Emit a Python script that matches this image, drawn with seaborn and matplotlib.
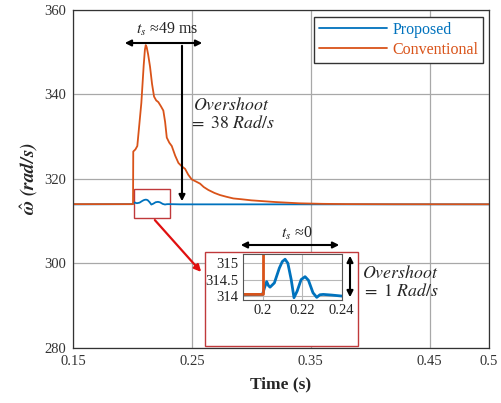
import numpy as np
import pandas as pd
import matplotlib
matplotlib.use("Agg")
import matplotlib.pyplot as plt
import seaborn as sns
from matplotlib.patches import Rectangle, FancyArrowPatch
from matplotlib.lines import Line2D

# ---- data ----
t_conv = [0.15, 0.2005, 0.2007, 0.2025, 0.2041, 0.2075, 0.2095, 0.2105, 0.2112, 0.2120,
          0.2132, 0.2148, 0.2165, 0.2182, 0.2200, 0.2218, 0.2240, 0.2260, 0.2275, 0.2289,
          0.2310, 0.2331, 0.2360, 0.2387, 0.2415, 0.2443, 0.2470, 0.2499, 0.2535, 0.2569,
          0.2600, 0.2639, 0.2690, 0.2737, 0.2790, 0.2849, 0.2920, 0.3000, 0.3100, 0.3200,
          0.3300, 0.3400, 0.3600, 0.3800, 0.4200, 0.5]
w_conv = [314.05, 314.05, 326.5, 327.0, 327.8, 338.0, 347.0, 350.6, 351.7, 351.2,
          349.5, 346.6, 342.5, 339.5, 338.6, 338.2, 337.2, 336.2, 333.5, 329.8,
          328.6, 327.8, 325.5, 323.8, 323.0, 322.4, 321.0, 319.9, 319.4, 318.9,
          318.1, 317.4, 316.7, 316.2, 315.8, 315.4, 315.2, 314.95, 314.75, 314.55,
          314.4, 314.25, 314.12, 314.06, 314.03, 314.02]

t_prop = [0.15, 0.2000, 0.2010, 0.2021, 0.2030, 0.2038, 0.2060, 0.2085, 0.2100, 0.2114,
          0.2128, 0.2145, 0.2159, 0.2175, 0.2195, 0.2215, 0.2232, 0.2255, 0.2274, 0.2290,
          0.2307, 0.2350, 0.2400, 0.2600, 0.5]
w_prop = [314.0, 314.05, 314.25, 314.44, 314.32, 314.27, 314.40, 314.85, 315.05, 315.12,
          315.0, 314.5, 313.95, 314.15, 314.50, 314.59, 314.48, 314.10, 313.96, 314.04,
          314.05, 314.03, 314.0, 314.0, 314.0]

x_ticks = [0.15, 0.25, 0.35, 0.45, 0.5]
x_tick_labels = ["0.15", "0.25", "0.35", "0.45", "0.5"]
y_ticks = [280, 300, 320, 340, 360]
ins_x_ticks = [0.2, 0.22, 0.24]
ins_x_labels = ["0.2", "0.22", "0.24"]
ins_y_ticks = [314, 314.5, 315]
ins_y_labels = ["314", "314.5", "315"]

BLUE = "#0072BD"
ORANGE = "#D95319"

df = pd.concat([
    pd.DataFrame({"t": t_prop, "w": w_prop, "series": "Proposed"}),
    pd.DataFrame({"t": t_conv, "w": w_conv, "series": "Conventional"}),
], ignore_index=True)

sns.set_style("white")
plt.rcParams["font.family"] = ["Liberation Serif", "DejaVu Serif"]
plt.rcParams["mathtext.fontset"] = "stix"

W, H = 502, 403
fig = plt.figure(figsize=(W / 100, H / 100), dpi=100)
ax = fig.add_axes([73 / W, 1 - 348 / H, 416 / W, 338 / H])

pal = {"Proposed": BLUE, "Conventional": ORANGE}
sns.lineplot(data=df, x="t", y="w", hue="series", palette=pal, ax=ax,
             linewidth=1.3, sort=False, estimator=None, legend=False)

ax.set_xlim(0.15, 0.5)
ax.set_ylim(280, 360)
ax.set_xticks(x_ticks)
ax.set_xticklabels(x_tick_labels)
ax.set_yticks(y_ticks)
ax.grid(True, color="#a8a8a8", linewidth=0.9)
ax.tick_params(direction="in", length=3, labelsize=10.5, colors="#333333", pad=5)
for s in ax.spines.values():
    s.set_color("#333333")
    s.set_linewidth(0.9)
ax.set_xlabel("Time (s)", fontsize=12.5, fontweight="bold", labelpad=6)
ax.set_ylabel(r"$\hat{\mathbfit{\omega}}\ \mathbfit{(rad/s)}$", fontsize=14, labelpad=3)

# legend
handles = [Line2D([], [], color=BLUE, lw=1.3), Line2D([], [], color=ORANGE, lw=1.3)]
leg = ax.legend(handles, ["Proposed", "Conventional"], loc="upper right",
                bbox_to_anchor=(1 - 6 / 416, 1 - 7 / 338), borderaxespad=0.0, fontsize=11.5,
                handlelength=4.3, handletextpad=0.3, borderpad=0.3, labelspacing=0.25,
                fancybox=False, framealpha=1, edgecolor="#333333")
leg.get_frame().set_linewidth(1.0)
for txt, c in zip(leg.get_texts(), [BLUE, ORANGE]):
    txt.set_color(c)

# small red box around the zoomed region
ax.add_patch(Rectangle((0.2014, 310.7), 0.0303, 7.0, fill=False, edgecolor="#C0393B", lw=1.0))


def fx(x):
    return x / W


def fy(y):
    return 1 - y / H


fig.add_artist(FancyArrowPatch((fx(122), fy(43)), (fx(205), fy(43)), arrowstyle="<|-|>",
                               mutation_scale=9, color="black", lw=1.5))
fig.text(fx(167), fy(29), r"$t_s$ ≈49 ms", ha="center", va="center", fontsize=11.5)
fig.add_artist(FancyArrowPatch((fx(182), fy(43)), (fx(182), fy(204)), arrowstyle="-|>",
                               mutation_scale=9, color="black", lw=1.5))
fig.text(fx(193), fy(106), r"$Overshoot$", ha="left", va="center", fontsize=12.8)
fig.text(fx(189), fy(124), r"$=\ 38\ Rad/s$", ha="left", va="center", fontsize=12.8)

# red arrow to inset
fig.add_artist(FancyArrowPatch((fx(153), fy(218)), (fx(203), fy(274)), arrowstyle="-|>",
                               mutation_scale=10, color="#E01010", lw=1.6))

# inset frame
fig.add_artist(Rectangle((fx(205), fy(345.7)), 152.7 / W, 94 / H, transform=fig.transFigure,
                         fill=True, facecolor="white", edgecolor="#C0393B", lw=1.0, zorder=3))

# inset axes
ins = fig.add_axes([242.7 / W, 1 - 300 / H, 99 / W, 46 / H], zorder=5)
sns.lineplot(data=df, x="t", y="w", hue="series", palette=pal, ax=ins,
             linewidth=2.0, sort=False, estimator=None, legend=False)
ins.set_xlim(0.19, 0.24)
ins.set_ylim(313.88, 315.28)
ins.set_xticks(ins_x_ticks)
ins.set_xticklabels(ins_x_labels)
ins.set_yticks(ins_y_ticks)
ins.set_yticklabels(ins_y_labels)
ins.set_xlabel("")
ins.set_ylabel("")
ins.grid(True, color="#b8b8b8", linewidth=0.8)
ins.tick_params(direction="in", length=2, labelsize=10.5, colors="#222222", pad=3)
for s in ins.spines.values():
    s.set_color("#555555")
    s.set_linewidth(0.8)

fig.add_artist(FancyArrowPatch((fx(238), fy(245)), (fx(342), fy(245)), arrowstyle="<|-|>",
                               mutation_scale=9, color="black", lw=1.5, zorder=6))
fig.text(fx(297), fy(233), r"$t_s$ ≈0", ha="center", va="center", fontsize=11.5, zorder=6)
fig.add_artist(FancyArrowPatch((fx(350), fy(253)), (fx(350), fy(300)), arrowstyle="<|-|>",
                               mutation_scale=9, color="black", lw=1.5, zorder=6))
fig.text(fx(362), fy(273), r"$Overshoot$", ha="left", va="center", fontsize=12.8, zorder=6)
fig.text(fx(362), fy(292), r"$=\ 1\ Rad/s$", ha="left", va="center", fontsize=12.8, zorder=6)

fig.savefig("out.png", dpi=100)
